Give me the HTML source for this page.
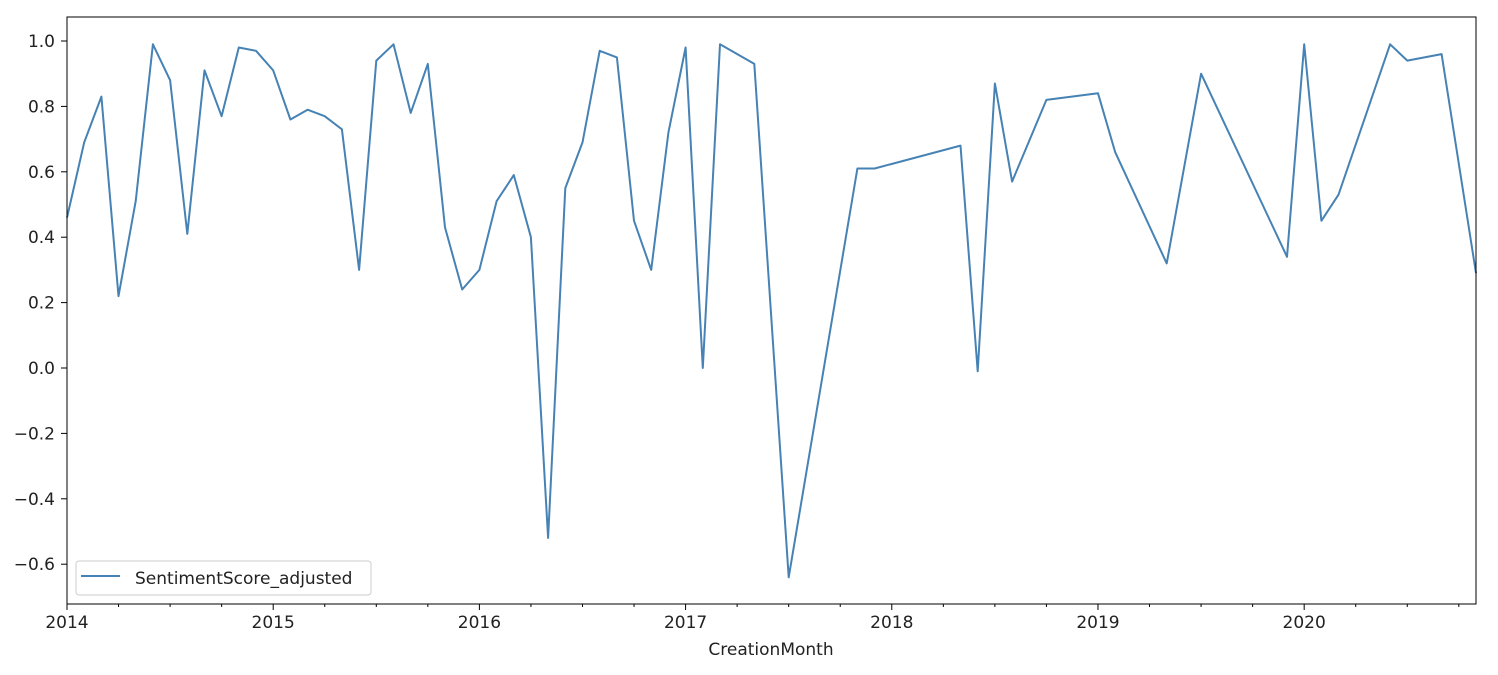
<!DOCTYPE html>
<html><head><meta charset="utf-8"><style>
body{margin:0;background:#fff;}
svg text{font-family:"DejaVu Sans","Liberation Sans",sans-serif;font-size:17px;fill:#222;}
</style></head><body>
<svg id="chart" width="1498" height="670" xmlns="http://www.w3.org/2000/svg"></svg>
<script>
const months = ["2014-01","2014-02","2014-03","2014-04","2014-05","2014-06","2014-07","2014-08","2014-09","2014-10","2014-11","2014-12","2015-01","2015-02","2015-03","2015-04","2015-05","2015-06","2015-07","2015-08","2015-09","2015-10","2015-11","2015-12","2016-01","2016-02","2016-03","2016-04","2016-05","2016-06","2016-07","2016-08","2016-09","2016-10","2016-11","2016-12","2017-01","2017-02","2017-03","2017-05","2017-07","2017-11","2017-12","2018-05","2018-06","2018-07","2018-08","2018-10","2019-01","2019-02","2019-05","2019-07","2019-12","2020-01","2020-02","2020-03","2020-06","2020-07","2020-09","2020-11"];
const scores = [0.46,0.69,0.83,0.22,0.51,0.99,0.88,0.41,0.91,0.77,0.98,0.97,0.91,0.76,0.79,0.77,0.73,0.30,0.94,0.99,0.78,0.93,0.43,0.24,0.30,0.51,0.59,0.40,-0.52,0.55,0.69,0.97,0.95,0.45,0.30,0.72,0.98,0.00,0.99,0.93,-0.64,0.61,0.61,0.68,-0.01,0.87,0.57,0.82,0.84,0.66,0.32,0.90,0.34,0.99,0.45,0.53,0.99,0.94,0.96,0.29];
const yTicks = [-0.6,-0.4,-0.2,0.0,0.2,0.4,0.6,0.8,1.0];
const xTickYears = [2014,2015,2016,2017,2018,2019,2020];

const svg = document.getElementById('chart');
const NS = "http://www.w3.org/2000/svg";
const L=67,R=1476,T=17,B=604;
function mIdx(s){const [y,m]=s.split('-').map(Number);return (y-2014)*12+(m-1);}
const xMax = mIdx("2020-11");
function xs(i){return L+(R-L)*i/xMax;}
function ys(v){return 368-327*v;}
function mk(tag,attrs,parent){const e=document.createElementNS(NS,tag);for(const k in attrs)e.setAttribute(k,attrs[k]);(parent||svg).appendChild(e);return e;}

yTicks.forEach(v=>{
  const y=ys(v);
  const t=mk('line',{x1:L-6,x2:L,y1:y,y2:y,stroke:'#000','stroke-width':1});
  
  
  const lb=mk('text',{x:L-12,y:y+6,'text-anchor':'end'});
  lb.textContent=v.toFixed(1).replace('-','\u2212');
  
  
});
for(let i=0;i<=xMax;i+=3){
  if(i%12===0) continue;
  const x=xs(i);
  const t=mk('line',{x1:x,x2:x,y1:B,y2:B+3,stroke:'#000','stroke-width':1});
  
  
}
xTickYears.forEach(yr=>{
  const x=xs((yr-2014)*12);
  const t=mk('line',{x1:x,x2:x,y1:B,y2:B+6,stroke:'#000','stroke-width':1});
  
  
  const lb=mk('text',{x:x,y:B+24,'text-anchor':'middle'});
  lb.textContent=yr;
  
  
});
const pts=months.map((m,i)=>xs(mIdx(m)).toFixed(1)+','+ys(scores[i]).toFixed(1)).join(' ');
const line=mk('polyline',{points:pts,fill:'none',stroke:'#4682b4','stroke-width':2,'stroke-linejoin':'round'});


const fr=mk('rect',{x:L,y:T,width:R-L,height:B-T,fill:'none',stroke:'#000','stroke-width':1});


const xl=mk('text',{x:771,y:655,'text-anchor':'middle'});
xl.textContent='CreationMonth';


const lg=mk('g',{});


mk('rect',{x:76,y:561,width:295,height:34,rx:3,fill:'#fff',stroke:'#ccc','stroke-width':1},lg);
mk('line',{x1:81,x2:120,y1:576,y2:576,stroke:'#4682b4','stroke-width':2},lg);
const lt=mk('text',{x:135,y:584},lg);
lt.textContent='SentimentScore_adjusted';


</script>
</body></html>
